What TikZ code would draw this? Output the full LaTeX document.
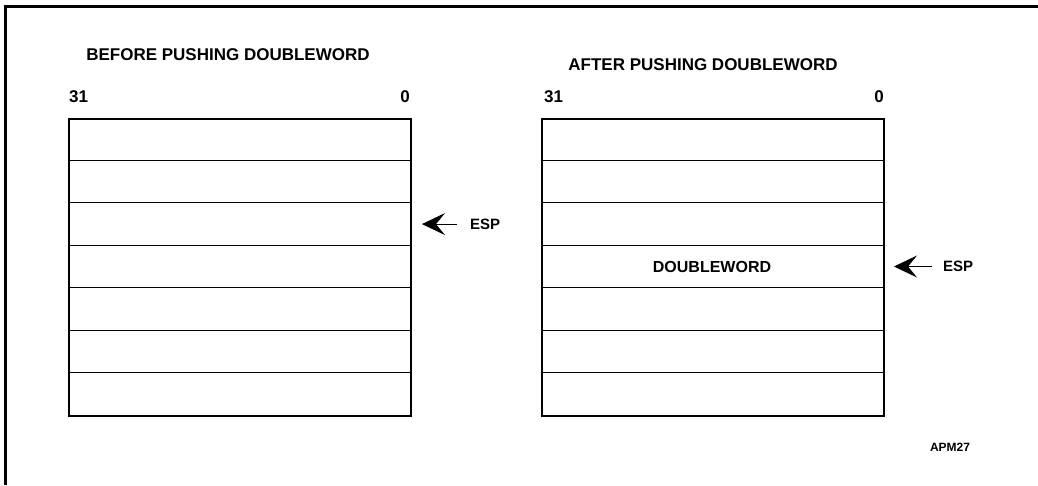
\documentclass[tikz,border=0pt]{standalone}
\usepackage{fontspec}
\setmainfont{Liberation Sans}
\usetikzlibrary{arrows.meta}
\tikzset{
  lbl/.style={font=\fontsize{17}{20}\selectfont\bfseries, inner sep=0pt},
  small/.style={font=\fontsize{15}{18}\selectfont\bfseries, inner sep=0pt},
  tiny/.style={font=\fontsize{12}{14}\selectfont\bfseries, inner sep=0pt},
  frame/.style={line width=3pt},
  outer/.style={line width=2pt},
  rowline/.style={line width=1pt},
  ptr/.style={line width=1pt, -{Stealth[length=23pt,width=22pt,inset=9pt]}}
}
\begin{document}
\begin{tikzpicture}[x=1pt,y=-1pt]
\useasboundingbox (0,0) rectangle (1038,485);
% frame (top and left only)
\draw[frame] (1038,6.5) -- (5,6.5) -- (5,485);

% titles
\node[lbl] (t1) at (228,55) {BEFORE PUSHING DOUBLEWORD};
\node[lbl] (t2) at (703,65) {AFTER PUSHING DOUBLEWORD};

% bit labels
\node[lbl,anchor=west] (l31) at (69,97) {31};
\node[lbl,anchor=east] (l0) at (410,97) {0};
\node[lbl,anchor=west] (r31) at (544,97) {31};
\node[lbl,anchor=east] (r0) at (884,97) {0};

% left stack
\foreach \i in {1,...,6} {
  \draw[rowline] (68,{118+\i*42.43}) -- (410,{118+\i*42.43});
}
\node[outer,draw,minimum width=342pt,minimum height=297pt,inner sep=0pt,anchor=north west] (lbox) at (68,118) {};

% right stack
\foreach \i in {1,...,6} {
  \draw[rowline] (541,{118+\i*42.43}) -- (883,{118+\i*42.43});
}
\node[outer,draw,minimum width=342pt,minimum height=297pt,inner sep=0pt,anchor=north west] (rbox) at (541,118) {};

\node[font=\fontsize{16}{19}\selectfont\bfseries, inner sep=0pt] (dw) at (712,{118+3.5*42.43}) {DOUBLEWORD};

% ESP pointers
\node[small,anchor=west] (esp1) at (470,{118+2.5*42.43}) {ESP};
\coordinate (tip1) at (422,{118+2.5*42.43});
\draw[ptr] ([xshift=-13pt]esp1.west) -- (tip1);

\node[small,anchor=west] (esp2) at (943,{118+3.5*42.43}) {ESP};
\coordinate (tip2) at (894,{118+3.5*42.43});
\draw[ptr] ([xshift=-11pt]esp2.west) -- (tip2);

\node[tiny] (apm) at (950,447) {APM27};
\end{tikzpicture}
\end{document}
